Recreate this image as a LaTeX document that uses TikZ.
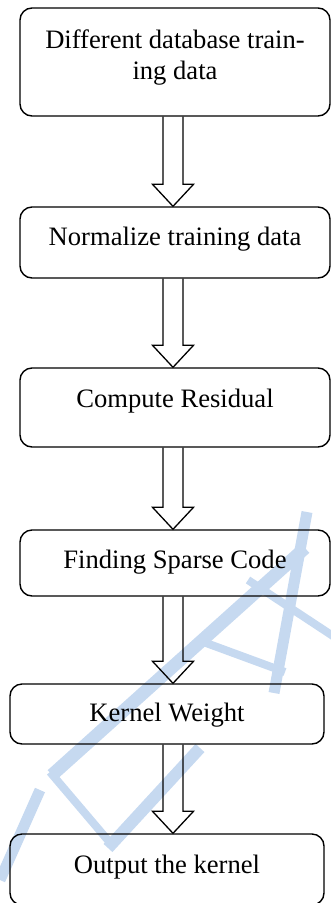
\documentclass[tikz,border=0pt]{standalone}
\usepackage{fontspec}
\setmainfont{Liberation Serif}
\usetikzlibrary{calc}
\definecolor{wm}{RGB}{198,217,240}
\tikzset{
  box/.style={draw=black, line width=1.4pt, rounded corners=12pt, inner sep=0pt},
  lbl/.style={anchor=base, inner sep=0pt, font=\fontsize{26.6}{31}\selectfont},
  harrow/.style={draw=black, line width=1.3pt, line join=miter},
  wmark/.style={draw=wm, line cap=butt, line join=miter},
}
\newcommand\flowarrow[2]{%
  \draw[harrow] ($(#1.south -| ax)+(-10,0)$) -- ($(#2.north -| ax)+(-10,-22)$)
    -- ($(#2.north -| ax)+(-20.5,-22)$) -- (#2.north -| ax)
    -- ($(#2.north -| ax)+(20.5,-22)$) -- ($(#2.north -| ax)+(10,-22)$)
    -- ($(#1.south -| ax)+(10,0)$);}
\begin{document}
\begin{tikzpicture}[x=1pt,y=-1pt]
\useasboundingbox (0,0) rectangle (331,903);
% watermark
\draw[wmark, line width=11pt] (307,512) -- (274,693);
\draw[wmark, line width=13pt] (305,548) -- (52,775);
\draw[wmark, line width=8pt] (198,640) -- (285,672);
\draw[wmark, line width=8pt] (248,580) -- (336,638);
\draw[wmark, line width=8pt] (50,772) -- (112,845);
\draw[wmark, line width=12pt] (108,848) -- (200,748);
\draw[wmark, line width=11pt] (40,790) -- (0,880);
\coordinate (ax) at (173,0);
% boxes
\node[box, minimum width=310pt, minimum height=108pt] (b1) at (175,62) {};
\node[box, minimum width=310pt, minimum height=71pt] (b2) at (175,242.5) {};
\node[box, minimum width=310pt, minimum height=79pt] (b3) at (175,407.5) {};
\node[box, minimum width=310pt, minimum height=66pt] (b4) at (175,563) {};
\node[box, minimum width=314pt, minimum height=60pt] (b5) at (167,714) {};
\node[box, minimum width=314pt, minimum height=71pt] (b6) at (167,869.5) {};
% labels
\node[lbl] (t1a) at (175,48) {Different database train-};
\node[lbl] (t1b) at (175,79) {ing data};
\node[lbl] (t2) at (175,245) {Normalize training data};
\node[lbl] (t3) at (175,407) {Compute Residual};
\node[lbl] (t4) at (175,568) {Finding Sparse Code};
\node[lbl] (t5) at (167,721) {Kernel Weight};
\node[lbl] (t6) at (167,873) {Output the kernel};
% arrows
\flowarrow{b1}{b2}
\flowarrow{b2}{b3}
\flowarrow{b3}{b4}
\flowarrow{b4}{b5}
\flowarrow{b5}{b6}
\end{tikzpicture}
\end{document}
